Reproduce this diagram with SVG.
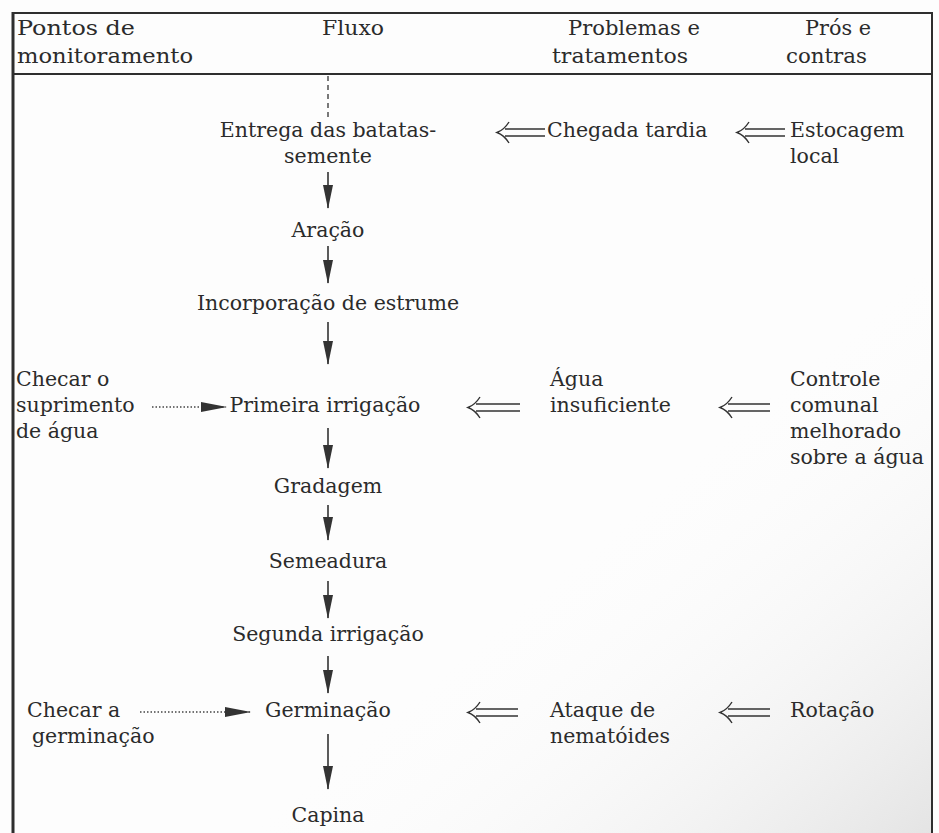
<svg xmlns="http://www.w3.org/2000/svg" width="939" height="833" viewBox="0 0 939 833">
  <style>
    .t { font-family: "DejaVu Serif", "Liberation Serif", serif; font-size: 20.5px; fill: #2b2b2b; }
    .h { font-family: "DejaVu Serif", "Liberation Serif", serif; font-size: 21px; fill: #2b2b2b; }
    .c { text-anchor: middle; }
    .flow { stroke: #333; stroke-width: 1.6; fill: none; }
    .dot { stroke: #444; stroke-width: 1.4; stroke-dasharray: 1.5 2; fill: none; }
    .dbl { stroke: #333; stroke-width: 1.4; fill: none; }
  </style>
  <defs>
    <!-- slim filled arrowhead for the main flow -->
    <marker id="head" viewBox="0 0 24 10" refX="23" refY="5" markerWidth="24" markerHeight="10" markerUnits="userSpaceOnUse" orient="auto">
      <path d="M0,0 L24,5 L0,10 Z" fill="#333"/>
    </marker>
    <!-- arrowhead for the dotted monitoring pointers -->
    <marker id="headR" viewBox="0 0 26 10" refX="25" refY="5" markerWidth="26" markerHeight="10" markerUnits="userSpaceOnUse" orient="auto">
      <path d="M0,0 L26,5 L0,10 Z" fill="#333"/>
    </marker>
    <linearGradient id="shade" x1="0" y1="0" x2="1" y2="1">
      <stop offset="0.6" stop-color="#ffffff" stop-opacity="0"/>
      <stop offset="1" stop-color="#d8d8d8" stop-opacity="0.7"/>
    </linearGradient>
  </defs>

  <!-- page -->
  <rect x="0" y="0" width="939" height="833" fill="#fdfdfd"/>
  <rect x="12" y="74" width="920" height="770" fill="url(#shade)"/>

  <!-- frame -->
  <g id="frame" fill="none" stroke="#2e2e2e">
    <line x1="13" y1="12" x2="13" y2="840" stroke-width="3"/>
    <line x1="12" y1="13" x2="933" y2="13" stroke-width="2"/>
    <line x1="932" y1="12" x2="932" y2="840" stroke-width="2"/>
    <line x1="12" y1="74" x2="933" y2="74" stroke-width="2"/>
  </g>

  <!-- column headings -->
  <g id="headings">
    <text class="h" x="17" y="35" textLength="118" lengthAdjust="spacingAndGlyphs">Pontos de</text>
    <text class="h" x="17" y="63" textLength="176" lengthAdjust="spacingAndGlyphs">monitoramento</text>
    <text class="h" x="322" y="35" textLength="62" lengthAdjust="spacingAndGlyphs">Fluxo</text>
    <text class="h" x="568" y="35" textLength="132" lengthAdjust="spacingAndGlyphs">Problemas e</text>
    <text class="h" x="552" y="63" textLength="136" lengthAdjust="spacingAndGlyphs">tratamentos</text>
    <text class="h" x="805" y="35" textLength="66" lengthAdjust="spacingAndGlyphs">Prós e</text>
    <text class="h" x="786" y="63" textLength="81" lengthAdjust="spacingAndGlyphs">contras</text>
  </g>

  <!-- flow steps -->
  <g id="n-entrega"><text class="t c" x="328" y="137">Entrega das batatas-</text><text class="t c" x="328" y="163">semente</text></g>
  <g id="n-aracao"><text class="t c" x="328" y="237">Aração</text></g>
  <g id="n-estrume"><text class="t c" x="328" y="310">Incorporação de estrume</text></g>
  <g id="n-irrig1"><text class="t c" x="325" y="412">Primeira irrigação</text></g>
  <g id="n-gradagem"><text class="t c" x="328" y="493">Gradagem</text></g>
  <g id="n-semeadura"><text class="t c" x="328" y="568">Semeadura</text></g>
  <g id="n-irrig2"><text class="t c" x="328" y="641">Segunda irrigação</text></g>
  <g id="n-germinacao"><text class="t c" x="328" y="717">Germinação</text></g>
  <g id="n-capina"><text class="t c" x="328" y="822">Capina</text></g>

  <!-- monitoring points -->
  <g id="m-agua">
    <text class="t" x="16" y="386">Checar o</text>
    <text class="t" x="16" y="412">suprimento</text>
    <text class="t" x="16" y="438">de água</text>
  </g>
  <g id="m-germinacao">
    <text class="t" x="27" y="717">Checar a</text>
    <text class="t" x="32" y="743">germinação</text>
  </g>

  <!-- problems and treatments -->
  <g id="p-chegada"><text class="t" x="547" y="137">Chegada tardia</text></g>
  <g id="p-agua">
    <text class="t" x="550" y="386">Água</text>
    <text class="t" x="550" y="412">insuficiente</text>
  </g>
  <g id="p-nematoides">
    <text class="t" x="550" y="717">Ataque de</text>
    <text class="t" x="550" y="743">nematóides</text>
  </g>

  <!-- pros and cons -->
  <g id="r-estocagem">
    <text class="t" x="790" y="137">Estocagem</text>
    <text class="t" x="790" y="163">local</text>
  </g>
  <g id="r-controle">
    <text class="t" x="790" y="386">Controle</text>
    <text class="t" x="790" y="412">comunal</text>
    <text class="t" x="790" y="438">melhorado</text>
    <text class="t" x="790" y="464">sobre a água</text>
  </g>
  <g id="r-rotacao"><text class="t" x="790" y="717">Rotação</text></g>

  <!-- connectors -->
  <g id="connectors">
    <!-- incoming dashed lead -->
    <line x1="328" y1="76" x2="328" y2="117" stroke="#333" stroke-width="1.3" stroke-dasharray="5 4"/>

    <!-- main flow -->
    <line class="flow" x1="328" y1="172" x2="328" y2="208" marker-end="url(#head)"/>
    <line class="flow" x1="328" y1="246" x2="328" y2="283" marker-end="url(#head)"/>
    <line class="flow" x1="328" y1="322" x2="328" y2="364" marker-end="url(#head)"/>
    <line class="flow" x1="328" y1="428" x2="328" y2="468" marker-end="url(#head)"/>
    <line class="flow" x1="328" y1="505" x2="328" y2="540" marker-end="url(#head)"/>
    <line class="flow" x1="328" y1="581" x2="328" y2="618" marker-end="url(#head)"/>
    <line class="flow" x1="328" y1="656" x2="328" y2="693" marker-end="url(#head)"/>
    <line class="flow" x1="328" y1="734" x2="328" y2="789" marker-end="url(#head)"/>

    <!-- monitoring pointers -->
    <line class="dot" x1="152" y1="407" x2="226" y2="407" marker-end="url(#headR)"/>
    <line class="dot" x1="140" y1="712" x2="250" y2="712" marker-end="url(#headR)"/>

    <!-- double arrows pointing left -->
    <g class="dbl">
      <path d="M505,129 H545 M505,136 H545 M509,122 Q504,130 497,132.5 Q504,135 509,143"/>
      <path d="M745,129 H785 M745,136 H785 M749,122 Q744,130 737,132.5 Q744,135 749,143"/>
      <path d="M476,404 H520 M476,411 H520 M480,397 Q475,405 468,407.5 Q475,410 480,418"/>
      <path d="M728,404 H770 M728,411 H770 M732,397 Q727,405 720,407.5 Q727,410 732,418"/>
      <path d="M476,709 H518 M476,716 H518 M480,702 Q475,710 468,712.5 Q475,715 480,723"/>
      <path d="M728,709 H770 M728,716 H770 M732,702 Q727,710 720,712.5 Q727,715 732,723"/>
    </g>
  </g>
</svg>
